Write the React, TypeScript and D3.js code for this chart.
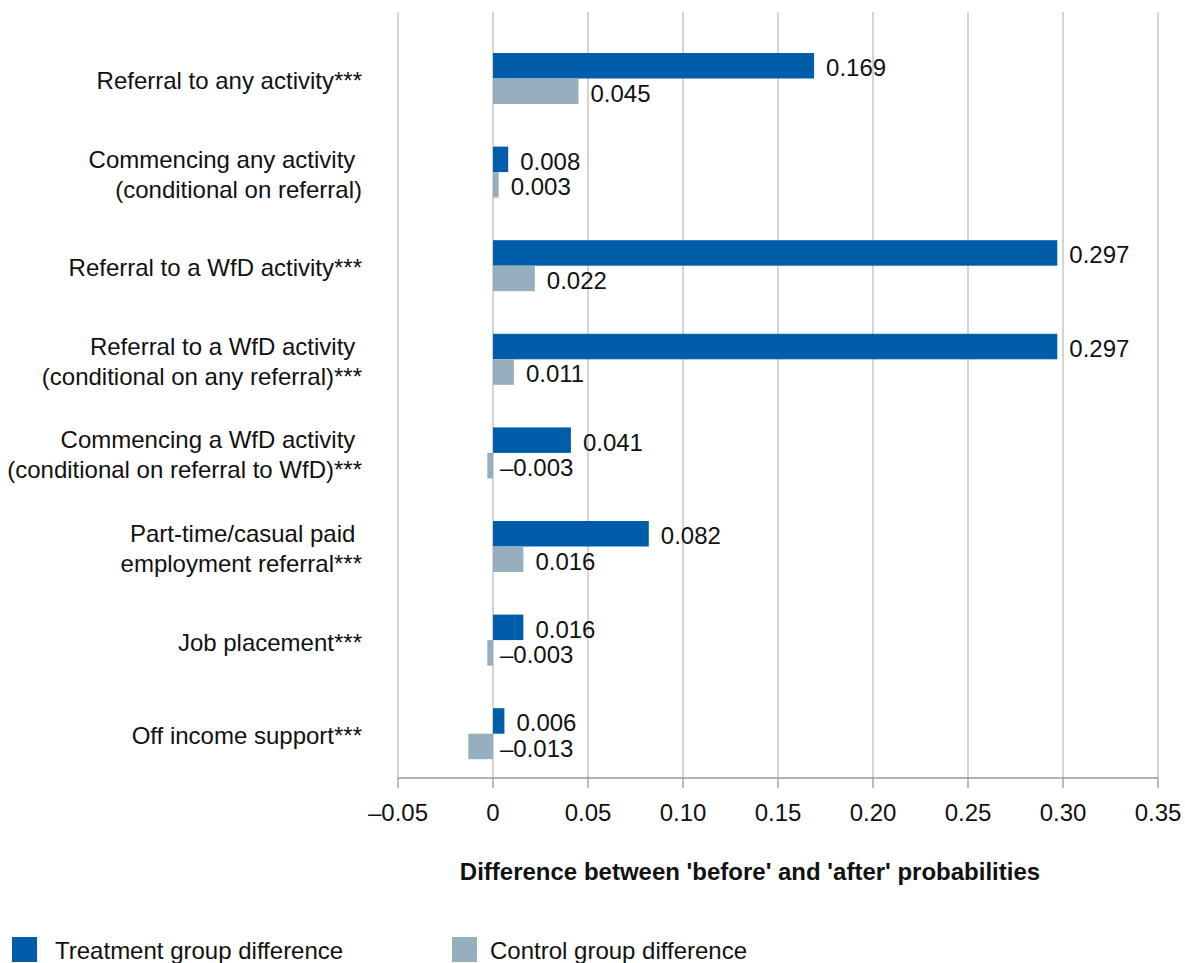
import React from "react";
import * as d3 from "d3";

const categories: string[][] = [
  ["Referral to any activity***"],
  ["Commencing any activity\u00a0", "(conditional on referral)"],
  ["Referral to a WfD activity***"],
  ["Referral to a WfD activity\u00a0", "(conditional on any referral)***"],
  ["Commencing a WfD activity\u00a0", "(conditional on referral to WfD)***"],
  ["Part-time/casual paid\u00a0", "employment referral***"],
  ["Job placement***"],
  ["Off income support***"],
];
const treatmentValues = [0.169, 0.008, 0.297, 0.297, 0.041, 0.082, 0.016, 0.006];
const controlValues = [0.045, 0.003, 0.022, 0.011, -0.003, 0.016, -0.003, -0.013];
const seriesNames = ["Treatment group difference", "Control group difference"];
const tickValues = [-0.05, 0, 0.05, 0.1, 0.15, 0.2, 0.25, 0.3, 0.35];
const axisTitle = "Difference between 'before' and 'after' probabilities";

const W = 1185;
const H = 963;
const COLORS = ["#005DAA", "#96AFBE"];
const FONT = "'Liberation Sans', Arial, Helvetica, sans-serif";
const FS = 24;

const fmtTick = (v: number) => {
  if (Math.abs(v) < 1e-9) return "0";
  const s = v.toFixed(2);
  return s.startsWith("-") ? "\u2013" + s.slice(1) : s;
};
const fmtVal = (v: number) => {
  const s = v.toFixed(3);
  return s.startsWith("-") ? "\u2013" + s.slice(1) : s;
};

export default function App() {
  const plotTop = 12;
  const plotBottom = 778;
  const x = d3.scaleLinear().domain([-0.05, 0.35]).range([398, 1158]);
  const ids = categories.map((_, i) => String(i));
  const step = 93.6;
  const y = d3
    .scaleBand<string>()
    .domain(ids)
    .range([78.5 - step / 2, 78.5 - step / 2 + step * categories.length])
    .padding(0);
  const inner = d3.scaleBand<string>().domain(["t", "c"]).range([0, 51]).padding(0);
  const barH = inner.bandwidth();

  const rows = categories.map((lines, i) => {
    const center = (y(ids[i]) as number) + y.bandwidth() / 2;
    const top = center - 25.5;
    return { lines, center, top, t: treatmentValues[i], c: controlValues[i] };
  });

  const bar = (v: number, top: number, color: string, key: string) => {
    const x0 = x(Math.min(0, v));
    const x1 = x(Math.max(0, v));
    return <rect key={key} x={x0} y={top} width={Math.max(0, x1 - x0)} height={barH} fill={color} />;
  };
  const valLabel = (v: number, top: number, key: string) => {
    const lx = v >= 0 ? x(v) + 12 : x(0) + 7;
    return (
      <text key={key} x={lx} y={top + barH / 2 + 2} dy="0.35em" fontSize={FS} fill="#111">
        {fmtVal(v)}
      </text>
    );
  };

  const legendPos = [
    { box: 12, text: 55 },
    { box: 452, text: 490 },
  ];

  return (
    <svg width={W} height={H} style={{ display: "block", position: "absolute", left: 0, top: 0 }} fontFamily={FONT}>
      <rect width={W} height={H} fill="#fff" />
      {tickValues.map((t) => (
        <line key={"g" + t} x1={x(t)} x2={x(t)} y1={plotTop} y2={plotBottom} stroke="#bdbdbd" strokeWidth={1.3} />
      ))}
      {rows.map((r, i) => (
        <g key={"r" + i}>
          {bar(r.t, r.top + (inner("t") as number), COLORS[0], "t")}
          {bar(r.c, r.top + (inner("c") as number), COLORS[1], "c")}
          {valLabel(r.t, r.top + (inner("t") as number), "lt")}
          {valLabel(r.c, r.top + (inner("c") as number), "lc")}
          <text x={362} textAnchor="end" fontSize={FS} fill="#111">
            {r.lines.map((ln, k) => (
              <tspan key={k} x={362} y={r.center + 2 + (k - (r.lines.length - 1) / 2) * 30} dy="0.35em">
                {ln}
              </tspan>
            ))}
          </text>
        </g>
      ))}
      <line x1={398} x2={1158} y1={plotBottom} y2={plotBottom} stroke="#9a9a9a" strokeWidth={1.3} />
      {tickValues.map((t) => (
        <g key={"t" + t}>
          <line x1={x(t)} x2={x(t)} y1={plotBottom} y2={plotBottom + 10} stroke="#9a9a9a" strokeWidth={1.3} />
          <text x={x(t)} y={813} dy="0.35em" textAnchor="middle" fontSize={FS} fill="#111">
            {fmtTick(t)}
          </text>
        </g>
      ))}
      <text x={750} y={872} dy="0.35em" textAnchor="middle" fontSize={FS} fontWeight="bold" fill="#111">
        {axisTitle}
      </text>
      {seriesNames.map((name, i) => (
        <g key={"l" + i}>
          <rect x={legendPos[i].box} y={937} width={25} height={25} fill={COLORS[i]} />
          <text x={legendPos[i].text} y={951} dy="0.35em" fontSize={FS} fill="#111">
            {name}
          </text>
        </g>
      ))}
    </svg>
  );
}
